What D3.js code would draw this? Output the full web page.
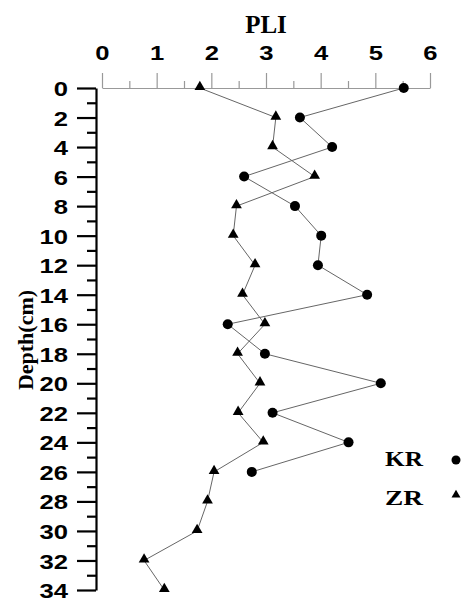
<!DOCTYPE html>
<html>
<head>
<meta charset="utf-8">
<script src="https://cdn.jsdelivr.net/npm/d3@7"></script>
<style>
  html, body { margin: 0; padding: 0; background: #fff; }
  svg { display: block; }
</style>
</head>
<body>
<svg id="chart" width="464" height="599"></svg>
<script>
// ---- data ----
const kr_depth = [0, 2, 4, 6, 8, 10, 12, 14, 16, 18, 20, 22, 24, 26];
const kr_pli   = [5.52, 3.62, 4.21, 2.60, 3.53, 4.01, 3.95, 4.85, 2.30, 2.98, 5.10, 3.12, 4.51, 2.74];
const zr_depth = [0, 2, 4, 6, 8, 10, 12, 14, 16, 18, 20, 22, 24, 26, 28, 30, 32, 34];
const zr_pli   = [1.79, 3.18, 3.12, 3.89, 2.46, 2.40, 2.80, 2.57, 2.98, 2.48, 2.89, 2.49, 2.95, 2.05, 1.93, 1.74, 0.77, 1.14];
const xTicks = [0, 1, 2, 3, 4, 5, 6];
const yTicks = [0, 2, 4, 6, 8, 10, 12, 14, 16, 18, 20, 22, 24, 26, 28, 30, 32, 34];
const legendNames = ["KR", "ZR"];

const svg = d3.select("#chart");
const x = d3.scaleLinear().domain([0, 6]).range([102, 430]);
const y = d3.scaleLinear().domain([0, 34]).range([88, 590]);
const SX = 1.22;

// top x axis (grey)
const xAxis = d3.axisTop(x).tickValues(d3.range(0, 6.01, 0.5)).tickSize(15).tickSizeOuter(0)
  .tickFormat(d => xTicks.includes(d) ? d : "");
const gx = svg.append("g").attr("transform", "translate(0,88)").call(xAxis);
gx.select(".domain").attr("stroke", "#999").attr("stroke-width", 1.2);
gx.selectAll(".tick line").attr("stroke", "#999").attr("stroke-width", 1.2)
  .attr("y2", d => Number.isInteger(d) ? -15 : -7);
gx.selectAll(".tick text").attr("y", -28).attr("dy", 0)
  .attr("transform", `scale(${SX},1)`)
  .style("font-family", "Liberation Sans, Arial, sans-serif")
  .style("font-weight", "bold").style("font-size", "21px").attr("fill", "#000");

// left y axis (black)
const yAxis = d3.axisLeft(y).tickValues(d3.range(0, 34.01, 1)).tickSize(19).tickSizeOuter(0)
  .tickFormat(d => yTicks.includes(d) ? d : "");
const gy = svg.append("g").attr("transform", "translate(96,0)").call(yAxis);
gy.select(".domain").attr("stroke", "#000").attr("stroke-width", 2.2);
gy.selectAll(".tick line").attr("stroke", "#000").attr("stroke-width", 2.2)
  .attr("x2", d => d % 2 === 0 ? -19 : -9);
gy.selectAll(".tick text").attr("x", -28 / SX).attr("dy", "0.36em")
  .attr("transform", `scale(${SX},1)`)
  .style("font-family", "Liberation Sans, Arial, sans-serif")
  .style("font-weight", "bold").style("font-size", "21px").attr("fill", "#000");

// titles
svg.append("text").attr("x", 266).attr("y", 33).attr("text-anchor", "middle")
  .style("font-family", "Liberation Serif, Times New Roman, serif")
  .style("font-weight", "bold").style("font-size", "25px").text("PLI");
svg.append("text").attr("transform", "translate(33,340) rotate(-90)").attr("text-anchor", "middle")
  .style("font-family", "Liberation Serif, Times New Roman, serif")
  .style("font-weight", "bold").style("font-size", "22px").text("Depth(cm)");

// lines
const line = d3.line().x(d => x(d[0])).y(d => y(d[1]));
const kr = kr_pli.map((v, i) => [v, kr_depth[i]]);
const zr = zr_pli.map((v, i) => [v, zr_depth[i]]);
svg.append("path").datum(kr).attr("d", line).attr("fill", "none").attr("stroke", "#666").attr("stroke-width", 1);
svg.append("path").datum(zr).attr("d", line).attr("fill", "none").attr("stroke", "#666").attr("stroke-width", 1);

// markers
svg.selectAll("circle.kr").data(kr).enter().append("circle")
  .attr("cx", d => x(d[0])).attr("cy", d => y(d[1])).attr("r", 5).attr("fill", "#000");
const tri = d3.symbol().type(d3.symbolTriangle).size(50);
svg.selectAll("path.zr").data(zr).enter().append("path")
  .attr("d", tri).attr("transform", d => `translate(${x(d[0])},${y(d[1]) - 1})`).attr("fill", "#000");

// legend
const lg = svg.append("g");
lg.selectAll("text").data(legendNames).enter().append("text")
  .attr("x", 385).attr("y", (d, i) => 466 + i * 39)
  .style("font-family", "Liberation Serif, Times New Roman, serif")
  .style("font-weight", "bold").style("font-size", "20px")
  .attr("textLength", 38).attr("lengthAdjust", "spacingAndGlyphs").text(d => d);
lg.append("circle").attr("cx", 456).attr("cy", 460).attr("r", 4.5).attr("fill", "#000");
lg.append("path").attr("d", d3.symbol().type(d3.symbolTriangle).size(35))
  .attr("transform", "translate(456,495)").attr("fill", "#000");
</script>
</body>
</html>
